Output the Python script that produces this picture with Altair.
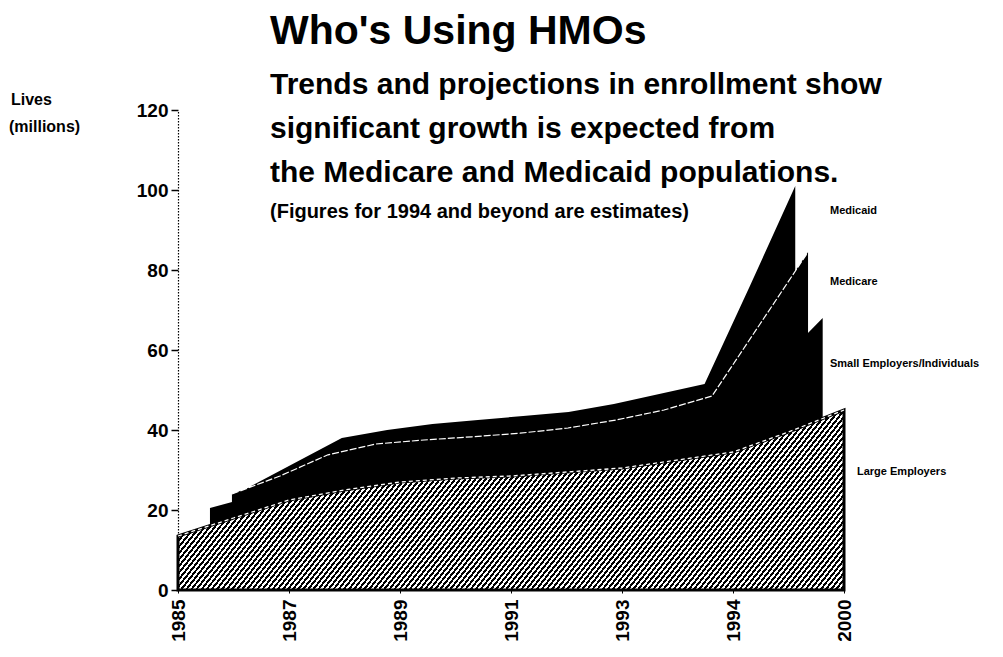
import math
import altair as alt
import pandas as pd

# ---------------- data ----------------
tick_labels = ["1985", "1987", "1989", "1991", "1993", "1994", "2000"]
period_index = list(range(13))          # half-steps between the labelled ticks

series_names = ["Large Employers", "Small Employers/Individuals", "Medicare", "Medicaid"]
large    = [13.5, 18.0, 22.5, 25.0, 27.0, 28.0, 28.5, 29.5, 30.5, 32.5, 34.5, 39.5, 45.0]
small    = [7.0, 6.0, 5.5, 6.0, 6.0, 6.0, 6.5, 6.5, 7.0, 7.5, 8.5, 15.5, 23.0]
medicare = [3.5, 4.5, 5.8, 5.5, 4.5, 4.3, 4.2, 4.5, 5.0, 5.0, 5.5, 11.5, 16.5]
medicaid = [2.0, 3.5, 4.2, 3.5, 4.0, 4.2, 4.3, 4.0, 4.0, 4.0, 3.0, 9.5, 16.5]

y_ticks = [0, 20, 40, 60, 80, 100, 120]

title_text = "Who's Using HMOs"
subtitle_lines = [
    "Trends and projections in enrollment show",
    "significant growth is expected from",
    "the Medicare and Medicaid populations.",
]
note_text = "(Figures for 1994 and beyond are estimates)"
y_title_lines = ["Lives", "(millions)"]

# ---------------- layout / style ----------------
W, H = 666, 480
FONT = "Liberation Sans"
depth = {"Large Employers": 1.0, "Small Employers/Individuals": 0.92,
         "Medicare": 0.865, "Medicaid": 0.817}
vanish = 7.2

values = {"Large Employers": large, "Small Employers/Individuals": small,
          "Medicare": medicare, "Medicaid": medicaid}

rows = []
cum = [0.0] * len(period_index)
for name in series_names:
    cum = [c + v for c, v in zip(cum, values[name])]
    k = depth[name]
    for p, c in zip(period_index, cum):
        rows.append({"series": name, "pos": p,
                     "xp": vanish + (p - vanish) * k, "cum": c})
df = pd.DataFrame(rows)

# band mid-points at the last period for the labels
lab_rows = []
prev = 0.0
for name in series_names:
    top = df[(df.series == name) & (df.pos == period_index[-1])]["cum"].iloc[0]
    lab_rows.append({"series": name, "xp": float(period_index[-1]), "cum": (prev + top) / 2})
    prev = top
labels_df = pd.DataFrame(lab_rows)

# hatch pattern via a striped linear gradient (objectBoundingBox units)
bw = W
bh = H * max(large) / 120.0
ang = math.radians(52)
r = bh / (math.tan(ang) * bw)
gdx = (1 + r) / (1 + r * r)
gdy = r * gdx
den = gdx * gdx + gdy * gdy
gmag = math.hypot(gdx / bw / den, gdy / bh / den)
period_px = 4.0
T = period_px * gmag
stops = []
i = 0
while i * T < 1:
    o = i * T
    m = min(o + T * 0.5, 1.0)
    e = min(o + T, 1.0)
    stops += [alt.GradientStop(offset=round(o, 5), color="black"),
              alt.GradientStop(offset=round(m, 5), color="black"),
              alt.GradientStop(offset=round(m, 5), color="white"),
              alt.GradientStop(offset=round(e, 5), color="white")]
    i += 1
hatch = alt.LinearGradient(gradient="linear", stops=stops, x1=0, y1=0, x2=gdx, y2=gdy)

label_expr = "[" + ",".join("'%s'" % t for t in tick_labels) + "][round(datum.value/2)]"

x_enc = alt.X("xp:Q", scale=alt.Scale(domain=[0, 12], nice=False, zero=False),
              axis=alt.Axis(values=[0, 2, 4, 6, 8, 10, 12], labelExpr=label_expr,
                            title=None, labelAngle=270, labelFont=FONT, labelFontSize=19,
                            labelFontWeight="bold", labelColor="black", labelPadding=6,
                            tickSize=3, tickColor="black", domainColor="black",
                            domainDash=[1.5, 1.5], grid=False))
y_enc = alt.Y("cum:Q", stack=None, scale=alt.Scale(domain=[0, 120], nice=False),
              axis=alt.Axis(values=y_ticks, title=None, labelFont=FONT, labelFontSize=19,
                            labelFontWeight="bold", labelColor="black", labelPadding=3,
                            tickSize=7, tickWidth=1.5, tickColor="black",
                            domainColor="black", domainDash=[1.5, 1.5], domainWidth=1.2,
                            grid=False))

base = alt.Chart(df)


def sel(name):
    return base.transform_filter(alt.datum.series == name)


layers = [
    sel("Medicaid").mark_area(color="black").encode(x=x_enc, y=y_enc),
    sel("Medicare").mark_area(color="black").encode(x="xp:Q", y=alt.Y("cum:Q", stack=None)),
    sel("Medicare").mark_line(color="white", strokeWidth=1.2, strokeDash=[7, 2]).encode(
        x="xp:Q", y=alt.Y("cum:Q", stack=None)),
    sel("Small Employers/Individuals").mark_area(color="black").encode(
        x="xp:Q", y=alt.Y("cum:Q", stack=None)),
    sel("Large Employers").mark_area(fill=hatch, stroke="black", strokeWidth=3,
                                     strokeJoin="miter").encode(
        x="xp:Q", y=alt.Y("cum:Q", stack=None)),
    sel("Large Employers").mark_line(color="white", strokeWidth=1.3, strokeDash=[4, 3]).encode(
        x="xp:Q", y=alt.Y("cum:Q", stack=None)),
]

label_style = {"Large Employers": (13, -28), "Small Employers/Individuals": (-14, 0),
               "Medicare": (-14, -3), "Medicaid": (-14, -8)}
for name in series_names:
    dx, dy = label_style[name]
    layers.append(
        alt.Chart(labels_df).transform_filter(alt.datum.series == name)
        .mark_text(align="left", baseline="middle", font=FONT, fontSize=11,
                   fontWeight="bold", color="black", dx=dx, dy=dy)
        .encode(x="xp:Q", y=alt.Y("cum:Q", stack=None), text="series:N"))


def txt(s, x, y, size, weight="bold"):
    return alt.Chart(pd.DataFrame({"t": [s]})).mark_text(
        align="left", baseline="alphabetic", font=FONT, fontSize=size,
        fontWeight=weight, color="black").encode(
        text="t:N", x=alt.value(x), y=alt.value(y))


layers.append(txt(title_text, 92, -66, 41))
for j, line in enumerate(subtitle_lines):
    layers.append(txt(line, 92, -16 + 44 * j, 30))
layers.append(txt(note_text, 92, 108, 20))
layers.append(txt(y_title_lines[0], -167, -5, 16))
layers.append(txt(y_title_lines[1], -169, 22, 16))

chart = alt.layer(*layers).properties(
    width=W, height=H,
    autosize=alt.AutoSizeParams(type="none"),
    padding={"left": 170, "top": 102, "right": 150, "bottom": 58},
).configure_view(stroke=None, strokeWidth=0)

chart.save("out.html", embed_options={"renderer": "svg", "actions": False})
